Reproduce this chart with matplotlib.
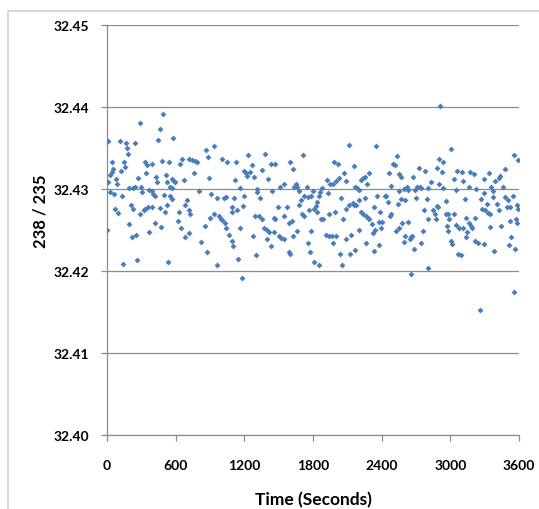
"""
238/235 ratio vs time scatter (Excel-style chart)
"""
import matplotlib
matplotlib.use("Agg")
import matplotlib.pyplot as plt
from matplotlib.lines import Line2D

# ---- data (time in s, ratio 238/235) ----
time_s = [
    0, 10, 114, 164, 246, 284, 489, 459, 448, 173, 182, 47, 149, 158, 41, 56, 120, 26, 79, 12,
    91, 328, 348, 392, 480, 340, 430, 275, 436, 26, 61, 129, 190, 225, 243, 299, 307, 366, 395, 401,
    416, 495, 70, 99, 208, 225, 290, 319, 328, 357, 392, 465, 196, 416, 474, 366, 222, 255, 138, 266,
    # 500 - 1070 s
    574, 539, 515, 524, 568, 582, 597, 553, 568, 641, 656, 720, 744, 767, 788, 867, 934, 884, 1001, 1051,
    758, 889, 676, 802, 913, 963, 1021, 1042, 568, 524, 679, 700, 626, 720, 729, 509, 904, 934, 977, 992,
    1007, 1030, 620, 855, 650, 714, 685, 1042, 1065, 825, 875, 532, 963, 547,
    # 1080 - 1650 s
    1124, 1235, 1378, 1197, 1212, 1226, 1250, 1264, 1285, 1118, 1358, 1431, 1469, 1411, 1601, 1627,
    1162, 1308, 1314, 1337, 1446, 1513, 1548, 1636, 1650, 1109, 1197, 1089, 1095, 1139, 1188, 1490,
    1572, 1291, 1329, 1350, 1455, 1469, 1543, 1592, 1616, 1373, 1396, 1416, 1460, 1162, 1095, 1279,
    1402, 1504, 1519, 1548, 1621, 1437, 1104, 1592, 1600, 1299, 1144, 1177,
    # 1650 - 2220 s
    1715, 2113, 2154, 1987, 2017, 2075, 1920, 1952, 1973, 2002, 2031, 2084, 2221, 2171, 2186, 2206,
    1659, 1747, 1680, 1724, 1753, 1782, 1797, 1861, 1879, 1850, 1832, 1695, 1680, 1703, 1724, 1768,
    1806, 1826, 1835, 1870, 1885, 1929, 2046, 1938, 1996, 2084, 2113, 2154, 2177, 2148, 2201, 2060,
    2201, 1782, 1659, 1914, 1938, 1967, 2002, 1973, 1753, 1776, 1811, 1855, 2040, 2119, 2163, 2055,
    2084, 2133,
    # 2230 - 2790 s
    2353, 2236, 2251, 2289, 2274, 2537, 2497, 2517, 2465, 2548, 2569, 2670, 2729, 2782, 2483, 2362,
    2426, 2441, 2598, 2621, 2555, 2631, 2695, 2713, 2733, 2748, 2256, 2455, 2573, 2602, 2544, 2704,
    2772, 2333, 2388, 2221, 2236, 2265, 2280, 2286, 2315, 2373, 2403, 2470, 2485, 2397, 2338, 2324,
    2523, 2552, 2579, 2631, 2602, 2596, 2645, 2660, 2669, 2684, 2742, 2757, 2265, 2373, 2333, 2654,
    # 2790 - 3190 s
    2909, 3006, 2900, 2932, 2880, 2924, 3032, 3061, 3099, 3108, 3172, 2827, 2807, 2903, 2938, 3047,
    3167, 2792, 2801, 2851, 2865, 2880, 2895, 2962, 2874, 2959, 2983, 3032, 2991, 3129, 2968, 2983,
    3003, 3012, 3050, 3079, 3108, 3137, 3167, 3178, 3143, 3137, 3064, 3093, 2807,
    # 3190 - 3590 s
    3559, 3590, 3480, 3436, 3422, 3387, 3334, 3296, 3203, 3457, 3354, 3222, 3298, 3369, 3544, 3480,
    3503, 3372, 3266, 3319, 3275, 3304, 3328, 3348, 3422, 3407, 3524, 3495, 3580, 3590, 3217, 3187,
    3445, 3348, 3518, 3576, 3582, 3217, 3240, 3290, 3378, 3532, 3509, 3567, 3553, 3260,
]

ratio = [
    32.4250, 32.4359, 32.4358, 32.4356, 32.4356, 32.4380, 32.4391, 32.4373, 32.4360, 32.4350,
    32.4343, 32.4333, 32.4333, 32.4327, 32.4321, 32.4324, 32.4322, 32.4317, 32.4312, 32.4309,
    32.4306, 32.4333, 32.4329, 32.4330, 32.4334, 32.4319, 32.4315, 32.4313, 32.4308, 32.4296,
    32.4294, 32.4292, 32.4301, 32.4301, 32.4302, 32.4303, 32.4296, 32.4299, 32.4297, 32.4294,
    32.4292, 32.4293, 32.4276, 32.4271, 32.4280, 32.4276, 32.4270, 32.4274, 32.4276, 32.4278,
    32.4278, 32.4277, 32.4257, 32.4259, 32.4254, 32.4248, 32.4242, 32.4244, 32.4208, 32.4213,
    # 500 - 1070 s
    32.4362, 32.4333, 32.4317, 32.4309, 32.4312, 32.4310, 32.4309, 32.4303, 32.4301, 32.4330,
    32.4337, 32.4337, 32.4335, 32.4334, 32.4333, 32.4347, 32.4352, 32.4339, 32.4337, 32.4333,
    32.4320, 32.4314, 32.4311, 32.4298, 32.4294, 32.4289, 32.4289, 32.4290, 32.4288, 32.4280,
    32.4280, 32.4286, 32.4272, 32.4274, 32.4270, 32.4272, 32.4265, 32.4270, 32.4267, 32.4264,
    32.4262, 32.4259, 32.4261, 32.4255, 32.4252, 32.4246, 32.4241, 32.4253, 32.4244, 32.4235,
    32.4223, 32.4211, 32.4207, 32.4291,
    # 1080 - 1650 s
    32.4333, 32.4341, 32.4343, 32.4322, 32.4320, 32.4316, 32.4321, 32.4329, 32.4315, 32.4311,
    32.4323, 32.4330, 32.4330, 32.4312, 32.4333, 32.4324, 32.4301, 32.4300, 32.4296, 32.4289,
    32.4298, 32.4302, 32.4306, 32.4303, 32.4306, 32.4289, 32.4292, 32.4278, 32.4272, 32.4275,
    32.4279, 32.4278, 32.4278, 32.4267, 32.4267, 32.4263, 32.4265, 32.4263, 32.4267, 32.4259,
    32.4261, 32.4252, 32.4250, 32.4247, 32.4248, 32.4253, 32.4237, 32.4243, 32.4239, 32.4243,
    32.4240, 32.4239, 32.4243, 32.4231, 32.4231, 32.4223, 32.4221, 32.4220, 32.4215, 32.4191,
    # 1650 - 2220 s
    32.4341, 32.4354, 32.4328, 32.4333, 32.4330, 32.4320, 32.4311, 32.4306, 32.4306, 32.4310,
    32.4313, 32.4310, 32.4311, 32.4303, 32.4301, 32.4299, 32.4302, 32.4303, 32.4298, 32.4292,
    32.4290, 32.4292, 32.4297, 32.4296, 32.4301, 32.4292, 32.4284, 32.4286, 32.4280, 32.4270,
    32.4267, 32.4274, 32.4276, 32.4279, 32.4272, 32.4263, 32.4263, 32.4295, 32.4289, 32.4270,
    32.4272, 32.4276, 32.4280, 32.4280, 32.4280, 32.4283, 32.4286, 32.4264, 32.4250, 32.4249,
    32.4249, 32.4244, 32.4243, 32.4243, 32.4243, 32.4234, 32.4234, 32.4223, 32.4211, 32.4207,
    32.4221, 32.4221, 32.4226, 32.4207, 32.4239, 32.4244,
    # 2230 - 2790 s
    32.4353, 32.4313, 32.4315, 32.4320, 32.4306, 32.4340, 32.4331, 32.4329, 32.4320, 32.4318,
    32.4315, 32.4315, 32.4326, 32.4322, 32.4304, 32.4292, 32.4292, 32.4292, 32.4300, 32.4303,
    32.4297, 32.4299, 32.4299, 32.4303, 32.4302, 32.4301, 32.4289, 32.4284, 32.4288, 32.4286,
    32.4282, 32.4289, 32.4274, 32.4278, 32.4272, 32.4272, 32.4270, 32.4267, 32.4265, 32.4263,
    32.4257, 32.4260, 32.4260, 32.4267, 32.4270, 32.4253, 32.4250, 32.4246, 32.4249, 32.4252,
    32.4259, 32.4260, 32.4243, 32.4235, 32.4239, 32.4241, 32.4243, 32.4227, 32.4234, 32.4249,
    32.4234, 32.4232, 32.4225, 32.4196,
    # 2790 - 3190 s
    32.4401, 32.4349, 32.4337, 32.4333, 32.4326, 32.4321, 32.4312, 32.4322, 32.4321, 32.4310,
    32.4321, 32.4308, 32.4301, 32.4306, 32.4301, 32.4299, 32.4302, 32.4288, 32.4263, 32.4274,
    32.4270, 32.4279, 32.4278, 32.4285, 32.4263, 32.4270, 32.4270, 32.4270, 32.4263, 32.4288,
    32.4255, 32.4249, 32.4237, 32.4233, 32.4256, 32.4252, 32.4253, 32.4265, 32.4259, 32.4255,
    32.4247, 32.4241, 32.4221, 32.4219, 32.4204,
    # 3190 - 3590 s
    32.4341, 32.4335, 32.4324, 32.4316, 32.4313, 32.4310, 32.4320, 32.4312, 32.4318, 32.4303,
    32.4303, 32.4300, 32.4295, 32.4298, 32.4292, 32.4290, 32.4286, 32.4290, 32.4288, 32.4282,
    32.4276, 32.4274, 32.4271, 32.4270, 32.4274, 32.4282, 32.4278, 32.4278, 32.4280, 32.4276,
    32.4265, 32.4253, 32.4255, 32.4254, 32.4261, 32.4263, 32.4259, 32.4237, 32.4234, 32.4233,
    32.4225, 32.4241, 32.4232, 32.4227, 32.4174, 32.4152,
]

x_ticks = [0, 600, 1200, 1800, 2400, 3000, 3600]
y_ticks = [32.40, 32.41, 32.42, 32.43, 32.44, 32.45]

plt.rcParams["font.family"] = ["Lato", "DejaVu Sans"]

fig = plt.figure(figsize=(5.39, 5.10), dpi=100)
ax = fig.add_axes([107 / 539, 74 / 510, 412 / 539, 410 / 510])

# chart-area frame: only the top and left edges show in the crop
frame_x = [8 / 539, 8 / 539, 1.0]
frame_y = [0.0, 498 / 510, 498 / 510]
fig.add_artist(Line2D(frame_x, frame_y, transform=fig.transFigure,
                      color="#cfcfcf", linewidth=1.2))

ax.scatter(time_s, ratio, marker="D", s=9, color="#4a7ebb",
           linewidths=0, zorder=3)

ax.set_xlim(0, 3600)
ax.set_ylim(32.40, 32.45)
ax.set_xticks(x_ticks)
ax.set_yticks(y_ticks)
ax.set_xticklabels([str(t) for t in x_ticks], fontsize=10, fontweight="bold")
ax.set_yticklabels([f"{v:.2f}" for v in y_ticks], fontsize=10, fontweight="bold")
ax.yaxis.grid(True, color="#8c8c8c", linewidth=0.9)
ax.set_axisbelow(True)

for side in ("top", "right"):
    ax.spines[side].set_visible(False)
for side in ("left", "bottom"):
    ax.spines[side].set_color("#8c8c8c")
    ax.spines[side].set_linewidth(0.9)
ax.tick_params(axis="both", colors="#8c8c8c", length=4, width=0.9,
               labelcolor="black")
ax.tick_params(axis="x", pad=13)
ax.tick_params(axis="y", pad=9)

ax.set_xlabel("Time (Seconds)", fontsize=12.5, fontweight="bold")
ax.xaxis.set_label_coords(0.5, -0.137)
ax.set_ylabel("238 / 235", fontsize=12, fontweight="bold")
ax.yaxis.set_label_coords(-0.143, 0.549)

fig.savefig("out.png", dpi=100)
